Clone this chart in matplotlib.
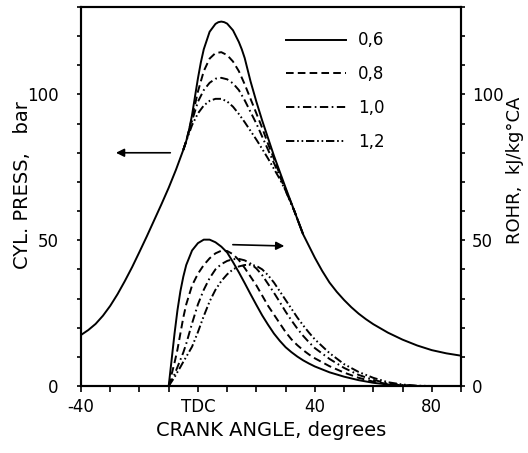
import numpy as np
import matplotlib
matplotlib.use("Agg")
import matplotlib.pyplot as plt
from matplotlib.lines import Line2D

plt.rcParams["font.family"] = "DejaVu Sans"
plt.rcParams["lines.scale_dashes"] = False

# cylinder pressure, bar (solid curve = 0,6 over the whole range)
p_ang = [-40, -37.5, -35, -32.5, -30, -27.5, -25, -22.5, -20, -17.5, -15, -12.5, -10, -7.5, -5, -4, -3, -2, -1, 0, 1, 2,
         4, 6, 7, 8, 9, 10, 12, 14, 15, 16, 18, 20, 22, 24, 26, 28, 30, 33, 36, 40,
         42.5, 45, 47.5, 50, 52.5, 55, 57.5, 60, 65, 70, 75, 80, 85, 90]
p06 = [17.5, 19.2, 21.3, 24.1, 27.5, 31.5, 36, 40.8, 46, 51.3, 56.8, 62.3, 68, 74.2, 81, 84, 88, 93, 99.3, 105.5, 111, 115.5,
       121.5, 124.2, 124.8, 125, 124.8, 124.3, 122, 118, 115.5, 112.5, 104.5, 97.5, 91, 85, 79, 73.5, 68, 60, 52, 44,
       39.5, 35.5, 32.3, 29.5, 27, 24.8, 22.9, 21.2, 18.3, 15.9, 13.9, 12.3, 11.2, 10.4]

# other ratios only differ around the peak
pk_ang = [-5, -4, -2, 0, 2, 4, 6, 8, 10, 12, 14, 16, 18, 20, 22, 24, 26, 28, 30, 33, 36]
p08 = [81, 84, 92, 101, 108, 112.3, 114.2, 114.5, 113.5, 111.3, 108, 103.5, 98.5, 93.5, 88.5, 83, 78, 72.5, 67.5, 60, 52]
p10 = [81, 84, 91, 97.5, 101.5, 104, 105.4, 105.7, 105.2, 103.8, 101.5, 98, 94, 90, 85.5, 81, 76.5, 72, 67, 60, 52]
p12 = [81, 84, 89.5, 93.5, 96.2, 97.8, 98.5, 98.5, 97.6, 95.8, 93.3, 90.5, 87.5, 84.5, 81.3, 78, 74.5, 71, 67, 60, 52]

# rate of heat release, kJ/kg°CA
r_ang = [-10, -9, -8, -7, -6, -5, -4, -2, 0, 2, 4, 6, 8, 10, 12, 14, 16, 18, 20, 22, 24, 26, 28, 30,
         32, 34, 36, 38, 40, 45, 50, 55, 60, 65, 70, 75, 80, 90]
r06 = [0, 9, 18, 26, 32.5, 37.5, 41.5, 46.5, 49, 50.2, 50.2, 49.3, 47.8, 45.8, 42.5, 39, 35.3, 31.5, 27.8, 24.2, 21, 18, 15.5, 13.3,
       11.6, 10.1, 8.8, 7.7, 6.7, 4.7, 3.2, 2, 1.1, 0.5, 0.2, 0, 0, 0]
r08 = [0, 4, 8, 12.5, 18, 23.5, 28, 34.5, 38.5, 41.5, 43.8, 45.5, 46.4, 46.3, 45.2, 43.2, 40.5, 37.5, 34.5, 31, 27.5, 24.5, 21.5, 18.5,
       16, 14, 12.3, 10.8, 9.5, 6.8, 4.6, 2.8, 1.5, 0.7, 0.2, 0, 0, 0]
r10 = [0, 2, 4, 6.5, 9, 11.5, 14.5, 21.5, 28, 33, 37, 40, 41.8, 42.9, 43.5, 43.6, 43.1, 42, 40.3, 38, 35, 32, 28.8, 25.5,
       22.5, 19.7, 17.2, 15, 13, 9.3, 6.2, 3.8, 2.1, 0.9, 0.3, 0, 0, 0]
r12 = [0, 1.5, 3, 4.8, 6.5, 8.3, 10, 13.5, 18.5, 24, 29, 33, 36, 38.3, 40, 41, 41.5, 41.6, 41.2, 40, 38, 35.5, 32.5, 29.5,
       26.5, 23.5, 20.8, 18.3, 16, 11.3, 7.5, 4.8, 2.8, 1.3, 0.5, 0.1, 0, 0]

labels = ["0,6", "0,8", "1,0", "1,2"]
styles = ["-", (0, (5.5, 3)), (0, (6, 2.5, 1.2, 2.5)), (0, (6, 2, 1.2, 2, 1.2, 2))]

fig = plt.figure(figsize=(5.28, 4.53), dpi=100)
ax = fig.add_axes([81 / 528, 67 / 453, 380 / 528, 379 / 453])
ax2 = ax.twinx()

lw = 1.4
ax.plot(p_ang, p06, color="black", lw=lw, ls=styles[0])
for vals, st in zip([p08, p10, p12], styles[1:]):
    ax.plot(pk_ang, vals, color="black", lw=lw, ls=st)

for vals, st in zip([r06, r08, r10, r12], styles):
    ax2.plot(r_ang, vals, color="black", lw=lw, ls=st)

yt = np.arange(0, 131, 10)
ytl = [str(v) if v in (0, 50, 100) else "" for v in yt]
for a in (ax, ax2):
    a.set_xlim(-40, 90)
    a.set_ylim(0, 130)
    a.set_yticks(yt)
    a.set_yticklabels(ytl)
    for s in a.spines.values():
        s.set_linewidth(1.5)

ax.set_xticks(np.arange(-40, 91, 10))
ax.set_xticklabels(["-40", "", "", "", "TDC", "", "", "", "40", "", "", "", "80", ""])
ax.tick_params(axis="x", direction="out", length=4, width=1.2, labelsize=12, pad=5)
ax.tick_params(axis="y", direction="out", length=3, width=1.2, labelsize=12, pad=13)
ax2.tick_params(axis="y", direction="out", length=3, width=1.2, labelsize=12, pad=5)

ax.set_xlabel("CRANK ANGLE, degrees", fontsize=14, labelpad=3)
ax.set_ylabel("CYL. PRESS,   bar", fontsize=14)
ax2.set_ylabel("ROHR,  kJ/kg°CA", fontsize=13)
ax.yaxis.set_label_coords(-0.13, 0.53)
ax2.yaxis.set_label_coords(1.118, 0.57)

# arrows pointing to each axis
ax.annotate("", xy=(-29, 80), xytext=(-8.5, 80),
            arrowprops=dict(arrowstyle="-|>", color="black", lw=1.2, mutation_scale=12))
ax2.annotate("", xy=(30.5, 48), xytext=(11, 48.5),
             arrowprops=dict(arrowstyle="-|>", color="black", lw=1.2, mutation_scale=12))

handles = [Line2D([0], [0], color="black", lw=lw, ls=st) for st in styles]
ax.legend(handles, labels, loc="upper left", bbox_to_anchor=(0.50, 0.975), frameon=False,
          fontsize=12, handlelength=3.6, handletextpad=0.7, labelspacing=0.95)

fig.savefig("out.png", dpi=100)
